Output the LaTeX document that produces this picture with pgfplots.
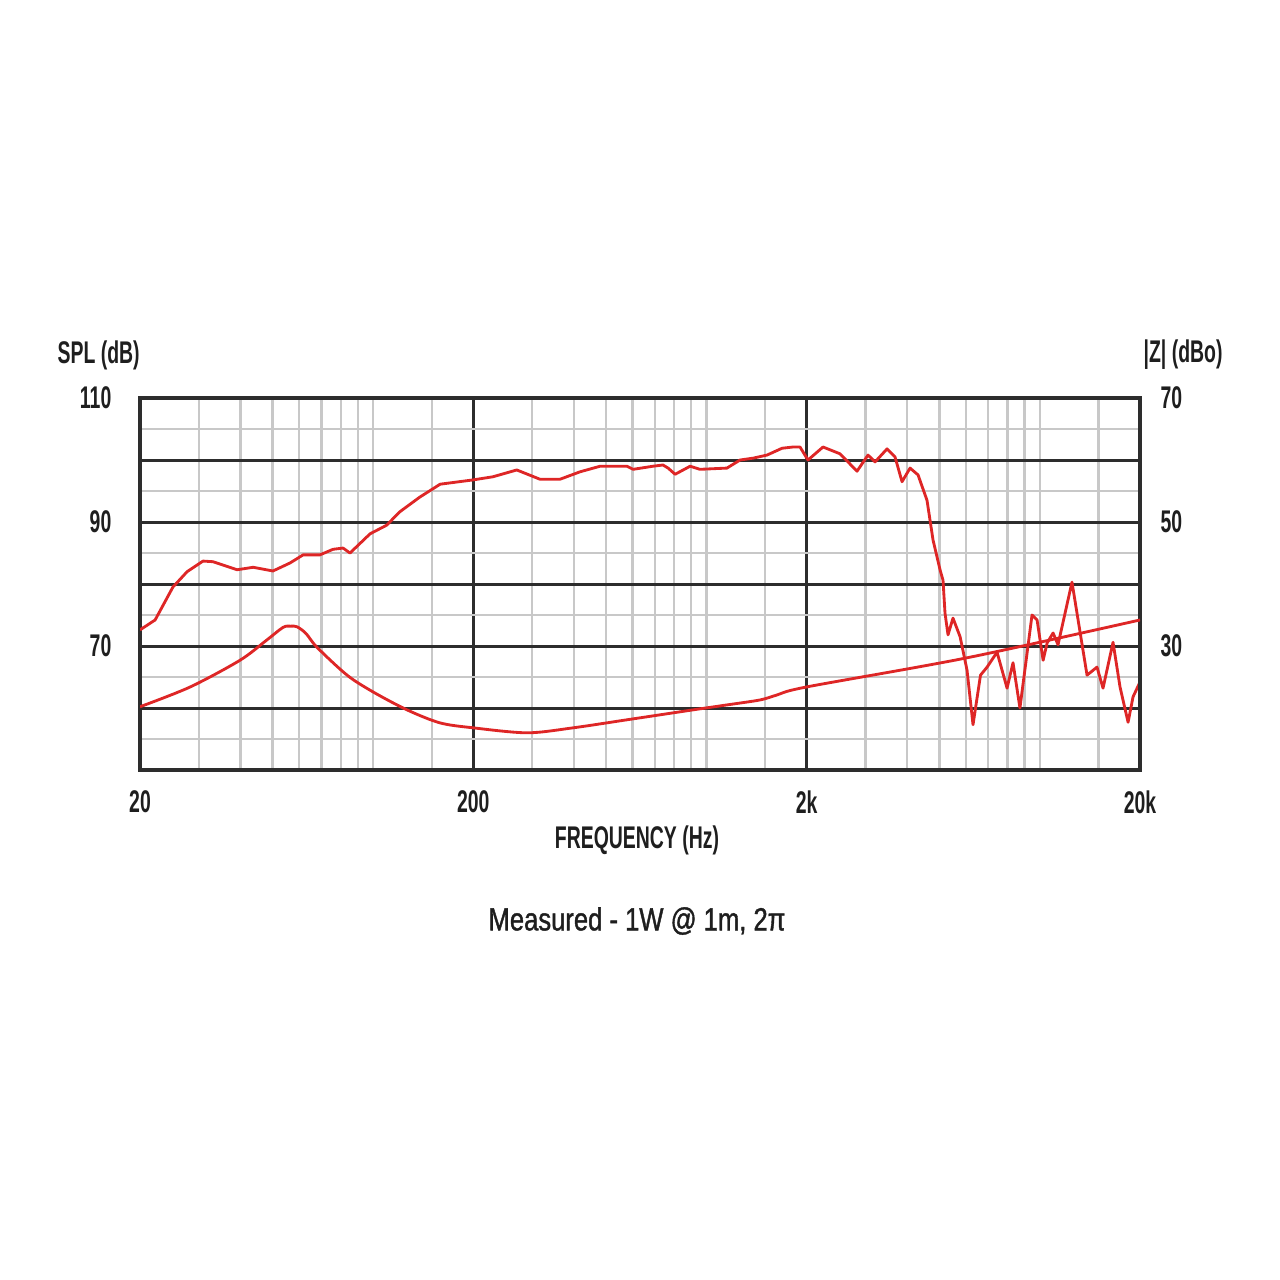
\documentclass[border=0pt]{standalone}
\usepackage{pgfplots}
\pgfplotsset{compat=1.18}
\usepackage{fontspec}
\setmainfont{Liberation Sans}[FakeStretch=0.62]
\newfontfamily\subfont{Liberation Sans}[FakeStretch=0.80,FakeBold=1.2]
\definecolor{curve}{RGB}{222,38,38}
\definecolor{majorg}{RGB}{45,45,45}
\definecolor{minorg}{RGB}{200,200,200}
\definecolor{txt}{RGB}{30,30,30}
\newcommand\lab{\fontsize{9.4}{10}\selectfont\bfseries}
\begin{document}
\begin{tikzpicture}
\useasboundingbox (-42pt,-153pt) rectangle (342pt,231pt);
\begin{axis}[
  at={(0,0)}, anchor=south west,
  scale only axis, width=300pt, height=111.6pt,
  xmode=log, xmin=20, xmax=20000, ymin=50, ymax=110,
  xtick={20,200,2000,20000}, xticklabels={20,200,2k,20k},
  minor xtick={30,40,50,60,70,80,90,100,150,300,400,500,600,700,800,900,1000,1500,3000,4000,5000,6000,7000,8000,9000,10000,15000},
  ytick={50,60,70,80,90,100,110}, yticklabels={,,70,,90,,110},
  minor ytick={55,65,75,85,95,105},
  grid=both,
  major grid style={majorg, line width=0.9pt},
  minor grid style={minorg, line width=0.7pt},
  axis line style={majorg, line width=1pt},
  tick style={draw=none},
  xticklabel style={font=\lab, text=txt, anchor=north, inner sep=0pt, yshift=-6pt},
  yticklabel style={font=\lab, text=txt, anchor=east, inner sep=0pt, xshift=-8.4pt},
]
\addplot[curve, line width=0.85pt, line join=round] coordinates {
(20,72.6) (22.2,74.2) (25.1,79.5) (27.7,82.0) (30.9,83.7) (33.1,83.6) (39.1,82.3)
(43.7,82.7) (50.1,82.1) (56.4,83.4) (61.7,84.7) (69.3,84.7) (75.9,85.6) (81.3,85.8)
(85.3,85.0) (98.0,88.1) (110,89.5) (120,91.6) (138,94.0) (159,96.1) (200,96.8)
(229,97.3) (270,98.4) (317,96.9) (364,96.9) (418,98.1) (480,99.0) (578,99.0)
(603,98.5) (692,99.0) (741,99.2) (768,98.7) (806,97.7) (894,99.0) (957,98.5)
(1153,98.7) (1262,100.0) (1381,100.3) (1521,100.8) (1687,101.9) (1820,102.1)
(1910,102.1) (2018,100.0) (2239,102.1) (2518,101.0) (2832,98.2) (3055,100.8)
(3208,99.7) (3485,101.8) (3682,100.5) (3865,96.5) (4085,98.7) (4316,97.6)
(4592,93.5) (4787,87.1) (5024,82.3) (5129,80.6) (5200,75.3) (5309,71.8)
(5495,74.5) (5771,71.5) (6055,66.1) (6310,57.3) (6645,65.3) (6954,66.6)
(7450,69.0) (7984,63.2) (8318,67.3) (8725,60.0) (9485,75.0) (9822,74.2)
(10240,67.7) (10530,70.5) (10970,72.1) (11350,70.2) (12500,80.3) (13870,65.3)
(14860,66.6) (15490,63.2) (16600,70.6) (17420,63.4) (18420,57.7) (19060,61.8)
(20000,64.2)
};
\end{axis}
\begin{axis}[
  at={(0,0)}, anchor=south west,
  scale only axis, width=300pt, height=111.6pt,
  xmode=log, xmin=20, xmax=20000, ymin=10, ymax=70,
  axis x line=none, axis y line*=right,
  ytick={30,50,70}, yticklabels={30,50,70},
  tick style={draw=none},
  axis line style={majorg, line width=1pt},
  yticklabel style={font=\lab, text=txt, anchor=west, inner sep=0pt, xshift=6pt},
]
\addplot[curve, line width=0.85pt, smooth] coordinates {
(20,20.2) (28.3,23.4) (39.9,27.7) (48.1,31.0) (53.7,33.0) (56.5,33.2) (59.2,33.1)
(63,32.0) (67.9,29.8) (83.6,25.3) (100,22.6) (126.5,19.7) (158.9,17.6) (200,16.8)
(290,16.0) (398,16.8) (578,18.1) (912,19.7) (1153,20.5) (1449,21.3) (1629,22.1)
(2000,23.4) (6055,28.1) (20000,34.2)
};
\end{axis}
\node[anchor=west, font=\lab, text=txt, inner sep=0pt] at (-24.9pt,124.5pt) {SPL (dB)};
\node[anchor=west, font=\lab, text=txt, inner sep=0pt] at (300.9pt,124.5pt) {|Z| (dBo)};
\node[font=\lab, text=txt, inner sep=0pt] at (149.1pt,-21pt) {FREQUENCY (Hz)};
\node[font=\subfont\fontsize{9.6}{11}\selectfont, text=txt, inner sep=0pt] at (149.1pt,-45.3pt) {Measured - 1W @ 1m, 2π};
\end{tikzpicture}
\end{document}
